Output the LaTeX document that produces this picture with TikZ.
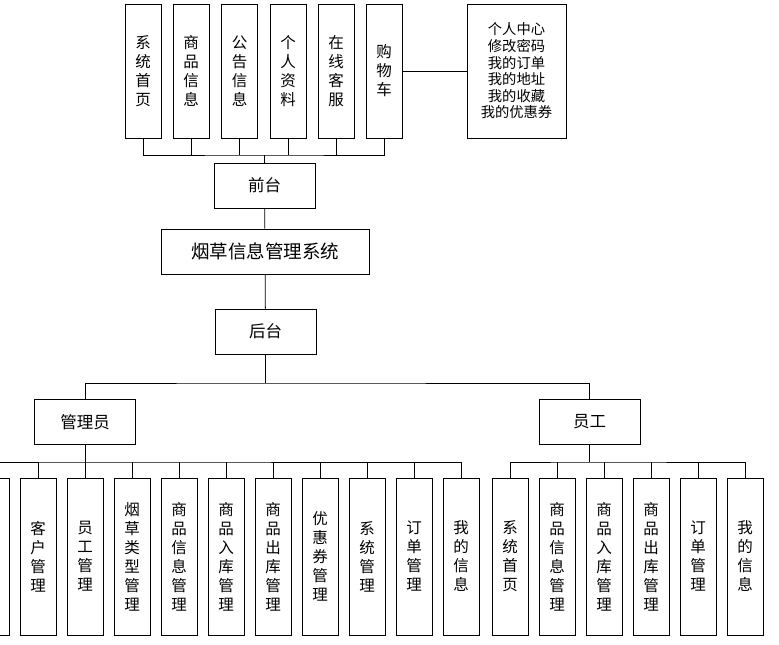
\documentclass[tikz,border=0pt]{standalone}
\usepackage{fontspec}
\setmainfont{Noto Sans CJK SC}

\begin{document}
\begin{tikzpicture}[x=1pt, y=-1pt, line width=0.8pt,
		tallbox/.style={draw, minimum width=36pt, inner sep=0pt, align=center, font=\fontsize{15.5}{19}\selectfont},
		topbox/.style={tallbox, minimum height=134pt},
		lowbox/.style={tallbox, minimum height=157pt},
		midbox/.style={draw, minimum width=101pt, minimum height=45pt, inner sep=0pt, font=\fontsize{16.5}{19}\selectfont}]
		\clip (0,0) rectangle (779,645);
		%%%%%%%%%%%%%
		\node[topbox] (t1) at (143, 71) {系\\统\\首\\页};
		\node[topbox] (t2) at (191, 71) {商\\品\\信\\息};
		\node[topbox] (t3) at (239.5, 71) {公\\告\\信\\息};
		\node[topbox] (t4) at (288, 71) {个\\人\\资\\料};
		\node[topbox] (t5) at (336, 71) {在\\线\\客\\服};
		\node[topbox] (t6) at (384, 71) {购\\物\\车};
		\node[draw, minimum width=99pt, minimum height=134pt, inner sep=0pt, align=center, font=\fontsize{14.3}{16.6}\selectfont] (center) at (516.5, 71) {个人中心\\修改密码\\我的订单\\我的地址\\我的收藏\\我的优惠券};
		\node[midbox] (front) at (264.5, 185.5) {前台};
		\node[midbox, minimum width=208pt, font=\fontsize{18.5}{19}\selectfont] (sys) at (265, 251.5) {烟草信息管理系统};
		\node[midbox] (back) at (265.5, 331.5) {后台};
		\node[midbox] (admin) at (85, 422) {管理员};
		\node[midbox] (staff) at (589.5, 422) {员工};
		%%%%%%%%%%%%%
		\node[lowbox] (a0) at (-9, 556.5) {};
		\node[lowbox] (a1) at (38, 556.5) {客\\户\\管\\理};
		\node[lowbox] (a2) at (85, 556.5) {员\\工\\管\\理};
		\node[lowbox] (a3) at (132, 556.5) {烟\\草\\类\\型\\管\\理};
		\node[lowbox] (a4) at (179, 556.5) {商\\品\\信\\息\\管\\理};
		\node[lowbox] (a5) at (226, 556.5) {商\\品\\入\\库\\管\\理};
		\node[lowbox] (a6) at (273, 556.5) {商\\品\\出\\库\\管\\理};
		\node[lowbox] (a7) at (320, 556.5) {优\\惠\\券\\管\\理};
		\node[lowbox] (a8) at (367, 556.5) {系\\统\\管\\理};
		\node[lowbox] (a9) at (414, 556.5) {订\\单\\管\\理};
		\node[lowbox] (a10) at (461, 556.5) {我\\的\\信\\息};
		\node[lowbox] (s1) at (510, 556.5) {系\\统\\首\\页};
		\node[lowbox] (s2) at (557, 556.5) {商\\品\\信\\息\\管\\理};
		\node[lowbox] (s3) at (604, 556.5) {商\\品\\入\\库\\管\\理};
		\node[lowbox] (s4) at (651, 556.5) {商\\品\\出\\库\\管\\理};
		\node[lowbox] (s5) at (698, 556.5) {订\\单\\管\\理};
		\node[lowbox] (s6) at (745, 556.5) {我\\的\\信\\息};
		%%%%%%%%%%%%%
		\coordinate (tbus) at (0, 155);
		\coordinate (mbus) at (0, 383);
		\coordinate (lbus) at (0, 462);
		\draw (t1.south) |- (front.north |- tbus) -| (t6.south);
		\foreach \i in {2,...,5} \draw (t\i.south) to (t\i.south |- tbus);
		\draw (front) to (front.north |- tbus);
		\draw (t6) to (center);
		\draw (front) to (sys); \draw (sys) to (back);
		\draw (back) to (back.south |- mbus);
		\draw (admin.north) |- (back.south |- mbus) -| (staff.north);
		\draw (a0.north) |- (admin.south |- lbus) -| (a10.north);
		\draw (admin) to (admin.south |- lbus);
		\foreach \i in {1,...,9} \draw (a\i.north) to (a\i.north |- lbus);
		\draw (s1.north) |- (staff.south |- lbus) -| (s6.north);
		\draw (staff) to (staff.south |- lbus);
		\foreach \i in {2,...,5} \draw (s\i.north) to (s\i.north |- lbus);
\end{tikzpicture}
\end{document}
